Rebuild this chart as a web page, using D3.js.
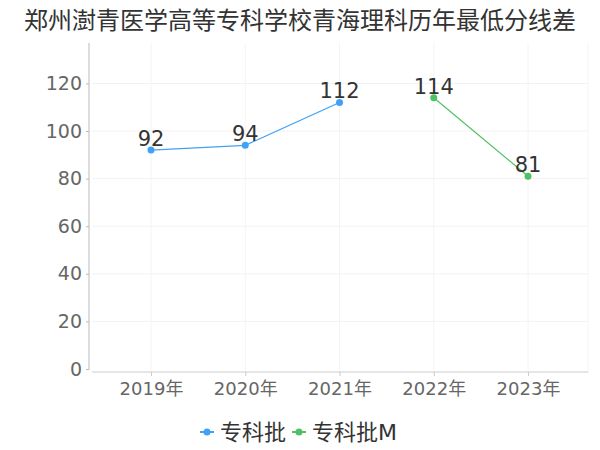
<!DOCTYPE html>
<html lang="zh">
<head>
<meta charset="UTF-8">
<title>chart</title>
<style>
  body { margin: 0; background: #fff; }
  text { font-family: "DejaVu Sans", "Noto Sans CJK SC", sans-serif; }
</style>
</head>
<body>
<svg id="chart" width="600" height="450"></svg>
<script src="https://d3js.org/d3.v7.min.js"></script>
<script>
// data
const years = ["2019年", "2020年", "2021年", "2022年", "2023年"];
const seriesNames = ["专科批", "专科批M"];
const seriesColors = ["#3fa2f7", "#4fc162"];
const blueValues = [92, 94, 112, null, null];
const greenValues = [null, null, null, 114, 81];
const yTicks = [0, 20, 40, 60, 80, 100, 120];
const titleText = "郑州澍青医学高等专科学校青海理科历年最低分线差";

const fontStack = "\"DejaVu Sans\", \"Noto Sans CJK SC\", sans-serif";
const svg = d3.select("#chart");

const x = d3.scalePoint().domain(years).range([151, 528]);
const y = d3.scaleLinear().domain([0, 137]).range([369, 43]);

// title
svg.append("text")
  .attr("x", 300).attr("y", 29)
  .attr("text-anchor", "middle")
  .attr("font-size", 24)
  .attr("fill", "#333")
  .text(titleText);

// grid
const grid = svg.append("g");
grid.selectAll(".hg").data(yTicks.slice(1)).enter().append("line")
  .attr("x1", 92).attr("x2", 588)
  .attr("y1", d => y(d)).attr("y2", d => y(d))
  .attr("stroke", "#f2f2f2");
grid.selectAll(".vg").data(years).enter().append("line")
  .attr("x1", d => x(d)).attr("x2", d => x(d))
  .attr("y1", 43).attr("y2", 372)
  .attr("stroke", "#f4f4f4");
grid.append("line")
  .attr("x1", 588).attr("x2", 588).attr("y1", 43).attr("y2", 372)
  .attr("stroke", "#f4f4f4");

// y axis
const yAxis = svg.append("g").attr("transform", "translate(89,0)")
  .call(d3.axisLeft(y).tickValues(yTicks).tickSize(3).tickPadding(4));
yAxis.select(".domain").attr("stroke", "#bbb").attr("d", "M0,43V370");
yAxis.selectAll(".tick line").attr("stroke", "#bbb");
yAxis.selectAll("text").attr("font-size", 19).attr("fill", "#666")
  .attr("font-family", fontStack);

// x axis
const xAxis = svg.append("g").attr("transform", "translate(0,372)")
  .call(d3.axisBottom(x).tickSize(4).tickPadding(6));
xAxis.select(".domain").attr("stroke", "#ccc").attr("d", "M92,0H588");
xAxis.selectAll(".tick line").attr("stroke", "#ccc");
xAxis.selectAll("text").attr("font-size", 18).attr("fill", "#666")
  .attr("font-family", fontStack);

// series
const series = [blueValues, greenValues];
series.forEach((vals, i) => {
  const pts = years.map((yr, j) => ({ yr, v: vals[j] })).filter(d => d.v != null);
  const line = d3.line().x(d => x(d.yr)).y(d => y(d.v));
  svg.append("path").datum(pts)
    .attr("d", line)
    .attr("fill", "none")
    .attr("stroke", seriesColors[i])
    .attr("stroke-width", 1.2);
  svg.selectAll(".pt" + i).data(pts).enter().append("circle")
    .attr("cx", d => x(d.yr)).attr("cy", d => y(d.v))
    .attr("r", 3.5).attr("fill", seriesColors[i]);
  svg.selectAll(".lb" + i).data(pts).enter().append("text")
    .attr("x", d => x(d.yr)).attr("y", d => y(d.v) - 4)
    .attr("text-anchor", "middle")
    .attr("font-size", 21)
    .attr("fill", "#333")
    .text(d => d.v);
});

// legend
const legendX = [200, 292];
seriesNames.forEach((name, i) => {
  const g = svg.append("g").attr("transform", "translate(" + legendX[i] + ",432)");
  g.append("line").attr("x1", 0).attr("x2", 14).attr("y1", 0).attr("y2", 0)
    .attr("stroke", seriesColors[i]).attr("stroke-width", 2);
  g.append("circle").attr("cx", 7).attr("cy", 0).attr("r", 3.5).attr("fill", seriesColors[i]);
  g.append("text").attr("x", 20).attr("y", 8)
    .attr("font-size", 22).attr("fill", "#333").text(name);
});
</script>
</body>
</html>
